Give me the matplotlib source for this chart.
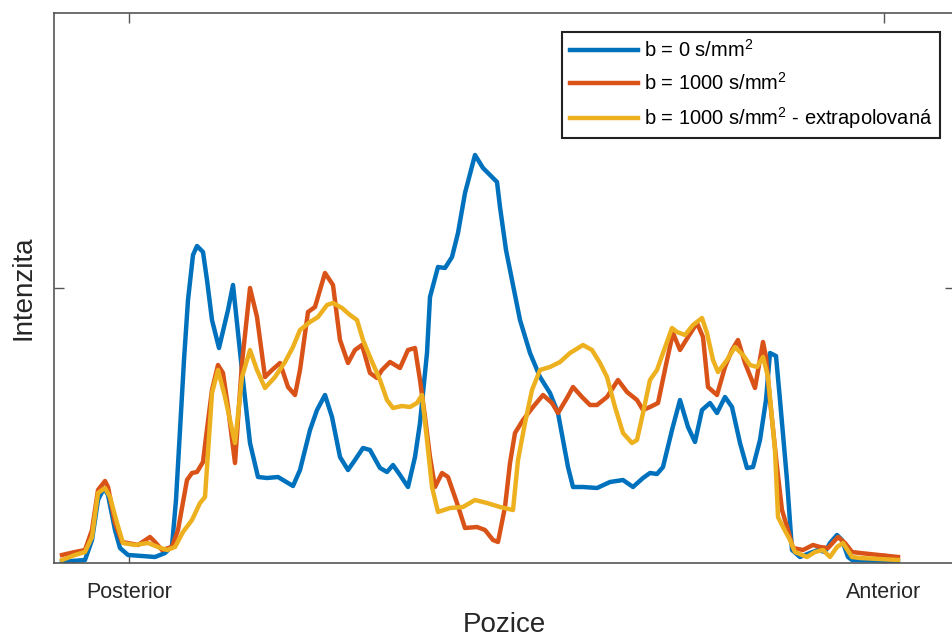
import matplotlib
matplotlib.use("Agg")
import matplotlib.pyplot as plt

plt.rcParams['font.family'] = ['Liberation Sans', 'DejaVu Sans']
plt.rcParams['mathtext.fontset'] = 'custom'
plt.rcParams['mathtext.rm'] = 'Liberation Sans'
plt.rcParams['mathtext.it'] = 'Liberation Sans'

# intensity profiles (position, intensity in a.u.)
pos_b0 = [0.0, 1.0, 2.3, 3.0, 3.6, 4.2, 4.6, 5.3, 5.8, 6.6, 8.0, 9.3, 10.3, 11.0, 11.4, 11.8, 12.2, 12.6,
          13.1, 13.5, 14.1, 14.5, 15.0, 15.7, 16.6, 17.1, 18.1, 18.8, 19.6, 20.5, 21.6, 23.1, 23.8, 24.8,
          25.5, 26.3, 27.0, 27.8, 28.6, 29.3, 30.1, 30.8, 31.8, 32.5, 33.1, 33.8, 34.6, 35.3, 35.8, 36.5,
          36.8, 37.6, 38.3, 39.0, 39.6, 40.3, 41.3, 42.1, 42.8, 43.5, 43.8, 44.4, 45.0, 45.8, 46.8, 47.8,
          48.8, 49.6, 50.1, 50.6, 51.1, 52.1, 53.5, 54.8, 56.1, 57.1, 58.1, 58.8, 59.5, 60.1, 61.0, 61.8,
          62.6, 63.3, 64.0, 64.8, 65.5, 66.3, 67.0, 67.8, 68.5, 69.1, 69.8, 70.4, 70.8, 71.4, 71.8, 72.5,
          73.0, 73.8, 74.8, 75.6, 76.3, 76.8, 77.5, 78.0, 78.6, 79.0, 83.6]
int_b0 = [1, 2, 3, 23, 63, 75, 68, 33, 15, 8, 7, 6, 10, 17, 63, 133, 203, 263,
          308, 317, 311, 283, 243, 215, 253, 278, 183, 120, 86, 85, 86, 77, 93, 133,
          153, 168, 146, 106, 93, 103, 115, 113, 95, 91, 98, 88, 76, 106, 140, 210,
          266, 296, 295, 306, 330, 370, 408, 395, 388, 381, 356, 313, 283, 243, 210, 186,
          170, 150, 123, 96, 76, 76, 75, 81, 83, 76, 85, 90, 89, 96, 133, 163,
          136, 121, 153, 160, 150, 166, 156, 120, 95, 96, 123, 163, 210, 207, 163, 83,
          13, 6, 10, 13, 11, 20, 28, 23, 6, 3, 2]

pos_b1000 = [0.0, 1.3, 2.3, 3.0, 3.6, 4.3, 4.6, 5.3, 6.0, 6.6, 7.6, 8.8, 9.3, 10.0, 11.0, 11.6, 12.5, 13.0,
             13.5, 14.1, 14.4, 15.0, 15.6, 16.1, 16.6, 17.3, 18.0, 18.8, 19.5, 20.3, 21.0, 21.8, 22.6,
             23.3, 23.8, 24.6, 25.3, 26.3, 27.1, 27.8, 28.6, 29.3, 30.0, 30.8, 31.5, 32.0, 32.8, 33.8,
             34.6, 35.3, 35.8, 36.3, 36.8, 37.3, 38.0, 38.6, 39.5, 40.3, 41.5, 42.3, 43.1, 43.6, 44.3,
             44.8, 45.3, 46.1, 47.1, 48.1, 49.0, 49.6, 50.5, 51.1, 52.0, 52.8, 53.5, 54.5, 55.6, 56.5,
             57.5, 58.1, 58.8, 59.6, 60.5, 61.1, 61.8, 62.6, 63.5, 64.1, 64.6, 65.5, 66.3, 67.0, 67.6,
             68.3, 69.3, 70.1, 70.4, 70.8, 71.5, 72.0, 72.6, 73.1, 74.1, 75.1, 75.8, 76.6, 77.6, 78.3,
             79.0, 79.8, 83.6]
int_b1000 = [8, 11, 13, 33, 73, 82, 76, 40, 21, 20, 18, 26, 21, 13, 16, 33, 83, 90,
             91, 101, 126, 173, 198, 190, 156, 100, 200, 275, 246, 186, 193, 200, 176,
             168, 193, 251, 256, 290, 278, 223, 200, 213, 218, 190, 185, 193, 201, 195,
             213, 215, 183, 146, 106, 76, 90, 86, 60, 35, 36, 33, 23, 21, 56,
             100, 130, 143, 156, 168, 160, 150, 165, 176, 166, 158, 158, 166, 183, 171,
             163, 153, 156, 160, 203, 230, 213, 226, 240, 226, 176, 168, 196, 213, 223,
             200, 175, 221, 206, 163, 96, 53, 33, 15, 13, 18, 16, 15, 26, 20,
             11, 10, 6]

pos_extra = [0.0, 1.3, 2.3, 3.0, 3.6, 4.3, 4.8, 5.5, 6.1, 7.3, 8.6, 9.6, 10.5, 11.3, 12.1, 13.0, 13.8, 14.3,
             15.0, 15.6, 16.3, 17.3, 18.0, 18.8, 19.5, 20.3, 21.3, 22.3, 23.1, 23.8, 24.8, 25.6, 26.5,
             27.1, 28.0, 28.8, 29.5, 30.1, 30.8, 31.8, 32.5, 33.1, 34.0, 34.8, 35.5, 36.0, 36.5, 37.0,
             37.6, 38.8, 40.1, 41.3, 42.5, 43.8, 45.1, 45.6, 46.3, 47.0, 47.8, 48.8, 49.8, 50.8, 52.1,
             53.0, 53.8, 54.5, 55.3, 56.1, 57.0, 57.5, 58.1, 58.8, 59.5, 60.1, 61.0, 61.5, 62.3, 63.1,
             64.0, 64.5, 65.1, 65.6, 66.5, 67.3, 68.1, 68.8, 69.5, 70.1, 70.6, 71.3, 71.6, 72.1, 72.8,
             73.3, 74.5, 75.3, 76.1, 76.8, 77.5, 78.1, 79.0, 79.8, 83.6]
int_extra = [3, 8, 11, 26, 70, 75, 66, 40, 20, 18, 20, 16, 13, 16, 31, 43, 60, 66,
             170, 193, 166, 120, 186, 213, 193, 175, 186, 201, 216, 233, 241, 246, 258,
             260, 255, 248, 243, 223, 206, 183, 163, 155, 157, 156, 160, 168, 123, 76,
             51, 55, 56, 63, 60, 56, 53, 103, 140, 173, 193, 196, 201, 210, 218,
             213, 200, 186, 156, 130, 120, 123, 150, 183, 193, 210, 235, 231, 228, 238,
             245, 230, 203, 191, 203, 216, 208, 198, 196, 206, 186, 113, 46, 36, 23,
             11, 6, 11, 13, 6, 16, 20, 6, 5, 3]

labels = [r'b = 0 s/mm$^2$', r'b = 1000 s/mm$^2$', r'b = 1000 s/mm$^2$ - extrapolovaná']
colors = ['#0072BD', '#D95319', '#EDB120']

fig = plt.figure(figsize=(9.52, 6.4), dpi=100)
ax = fig.add_axes([54 / 952, 77 / 640, 901 / 952, 550 / 640])

ax.plot(pos_b0, int_b0, color=colors[0], lw=3.2, label=labels[0])
ax.plot(pos_b1000, int_b1000, color=colors[1], lw=3.2, label=labels[1])
ax.plot(pos_extra, int_extra, color=colors[2], lw=3.2, label=labels[2])

ax.set_xlim(-0.8, 89.3)
ax.set_ylim(0, 550)
ax.set_xticks([6.7, 82.2])
ax.set_xticklabels(['Posterior', 'Anterior'], fontsize=15.5, color='#262626')
ax.set_yticks([275])
ax.set_yticklabels([])
ax.tick_params(direction='in', length=7, width=1, color='#555555',
               top=True, right=True, pad=14)
for s in ax.spines.values():
    s.set_color('#555555')
    s.set_linewidth(1.2)

ax.set_xlabel('Pozice', fontsize=20, color='#262626', va='center')
ax.xaxis.set_label_coords(0.5, -0.113)
ax.set_ylabel('Intenzita', fontsize=20, color='#262626', va='center')
ax.yaxis.set_label_coords(-0.034, 0.5)

leg = ax.legend(loc='upper right', bbox_to_anchor=(0.983, 0.965), borderaxespad=0,
                fontsize=14.5, handlelength=3.4, handletextpad=0.3, borderpad=0.35,
                labelspacing=0.55, fancybox=False, framealpha=1)
leg.get_frame().set_edgecolor('#222222')
leg.get_frame().set_linewidth(1.5)

fig.savefig('out.png', dpi=100)
